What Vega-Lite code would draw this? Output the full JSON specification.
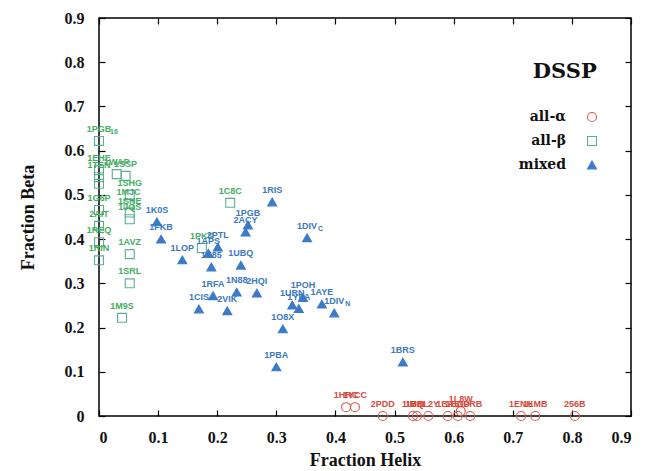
{
  "$schema": "https://vega.github.io/schema/vega-lite/v6.json",
  "width": 532,
  "height": 398,
  "autosize": {"type": "none"},
  "padding": {"left": 99, "top": 18, "right": 24, "bottom": 55},
  "background": "#ffffff",
  "data": {
    "values": [
      {"name": "1HRC", "h": 0.418, "b": 0.02, "cls": "all-α"},
      {"name": "1YCC", "h": 0.433, "b": 0.02, "cls": "all-α"},
      {"name": "2PDD", "h": 0.48, "b": 0.0, "cls": "all-α"},
      {"name": "1IMQ", "h": 0.531, "b": 0.0, "cls": "all-α"},
      {"name": "1BBL", "h": 0.538, "b": 0.0, "cls": "all-α"},
      {"name": "1L2Y", "h": 0.557, "b": 0.0, "cls": "all-α"},
      {"name": "1BA5", "h": 0.59, "b": 0.0, "cls": "all-α"},
      {"name": "1BDD", "h": 0.607, "b": 0.0, "cls": "all-α"},
      {"name": "1L8W", "h": 0.612, "b": 0.011, "cls": "all-α"},
      {"name": "1PRB", "h": 0.628, "b": 0.0, "cls": "all-α"},
      {"name": "1ENH", "h": 0.714, "b": 0.0, "cls": "all-α"},
      {"name": "1LMB", "h": 0.738, "b": 0.0, "cls": "all-α"},
      {"name": "256B", "h": 0.805, "b": 0.0, "cls": "all-α"},
      {"name": "1PGB", "sub": "16", "h": 0.0, "b": 0.622, "cls": "all-β"},
      {"name": "1EHE", "h": 0.0, "b": 0.556, "cls": "all-β"},
      {"name": "1TEN", "h": 0.0, "b": 0.54, "cls": "all-β"},
      {"name": "", "h": 0.0, "b": 0.525, "cls": "all-β"},
      {"name": "1WAP", "h": 0.03, "b": 0.547, "cls": "all-β"},
      {"name": "1SSP", "h": 0.045, "b": 0.543, "cls": "all-β"},
      {"name": "1SHG", "h": 0.052, "b": 0.5, "cls": "all-β"},
      {"name": "1MJC", "h": 0.05, "b": 0.48, "cls": "all-β"},
      {"name": "1SHE", "h": 0.052, "b": 0.46, "cls": "all-β"},
      {"name": "1JQS", "h": 0.052, "b": 0.445, "cls": "all-β"},
      {"name": "1G6P", "h": 0.0, "b": 0.466, "cls": "all-β"},
      {"name": "2AIT", "h": 0.0, "b": 0.43, "cls": "all-β"},
      {"name": "1REQ", "h": 0.0, "b": 0.393, "cls": "all-β"},
      {"name": "1RIN", "h": 0.0, "b": 0.352, "cls": "all-β"},
      {"name": "1AVZ", "h": 0.052, "b": 0.366, "cls": "all-β"},
      {"name": "1SRL", "h": 0.052, "b": 0.3, "cls": "all-β"},
      {"name": "1M9S", "h": 0.039, "b": 0.222, "cls": "all-β"},
      {"name": "1C8C", "h": 0.222, "b": 0.482, "cls": "all-β"},
      {"name": "1PKS", "h": 0.174, "b": 0.38, "cls": "all-β"},
      {"name": "1K0S", "h": 0.098, "b": 0.439, "cls": "mixed"},
      {"name": "1FKB", "h": 0.105, "b": 0.4, "cls": "mixed"},
      {"name": "1LOP", "h": 0.141, "b": 0.353, "cls": "mixed"},
      {"name": "1APS", "h": 0.185, "b": 0.368, "cls": "mixed"},
      {"name": "2PTL", "h": 0.201, "b": 0.382, "cls": "mixed"},
      {"name": "1E85", "h": 0.19, "b": 0.337, "cls": "mixed"},
      {"name": "1UBQ", "h": 0.24, "b": 0.341, "cls": "mixed"},
      {"name": "1RFA", "h": 0.193, "b": 0.272, "cls": "mixed"},
      {"name": "1N88", "h": 0.233, "b": 0.28, "cls": "mixed"},
      {"name": "2HQI", "h": 0.267, "b": 0.278, "cls": "mixed"},
      {"name": "1CIS", "h": 0.169, "b": 0.242, "cls": "mixed"},
      {"name": "2VIK", "h": 0.217, "b": 0.238, "cls": "mixed"},
      {"name": "1POH", "h": 0.345, "b": 0.268, "cls": "mixed"},
      {"name": "1URN", "h": 0.327, "b": 0.251, "cls": "mixed"},
      {"name": "1YPA", "h": 0.338, "b": 0.243, "cls": "mixed"},
      {"name": "1AYE", "h": 0.377, "b": 0.253, "cls": "mixed"},
      {"name": "1DIV", "sub": "N", "h": 0.398, "b": 0.233, "cls": "mixed"},
      {"name": "1O8X", "h": 0.311, "b": 0.197, "cls": "mixed"},
      {"name": "1PBA", "h": 0.3, "b": 0.111, "cls": "mixed"},
      {"name": "1BRS", "h": 0.514, "b": 0.122, "cls": "mixed"},
      {"name": "1DIV", "sub": "C", "h": 0.352, "b": 0.403, "cls": "mixed"},
      {"name": "1RIS", "h": 0.293, "b": 0.484, "cls": "mixed"},
      {"name": "1PGB", "h": 0.252, "b": 0.432, "cls": "mixed"},
      {"name": "2ACY", "h": 0.248, "b": 0.416, "cls": "mixed"}
    ]
  },
  "resolve": {"axis": {"x": "independent", "y": "independent"}},
  "layer": [
    {
      "mark": {"type": "point", "strokeWidth": 1.1, "opacity": 1},
      "encoding": {
        "x": {"field": "h", "type": "quantitative", "scale": {"domain": [0, 0.9], "nice": false, "zero": false},
              "axis": {"orient": "bottom", "values": [0, 0.1, 0.2, 0.3, 0.4, 0.5, 0.6, 0.7, 0.8, 0.9], "format": ".1~f", "labelPadding": 19, "title": "Fraction Helix", "titlePadding": 6}},
        "y": {"field": "b", "type": "quantitative", "scale": {"domain": [0, 0.9], "nice": false, "zero": false},
              "axis": {"orient": "left", "values": [0, 0.1, 0.2, 0.3, 0.4, 0.5, 0.6, 0.7, 0.8, 0.9], "format": ".1~f", "labelPadding": 21, "title": "Fraction Beta", "titlePadding": 27}},
        "shape": {"field": "cls", "type": "nominal", "scale": {"domain": ["all-α", "all-β", "mixed"], "range": ["circle", "square", "triangle-up"]}, "legend": {"title": null}},
        "stroke": {"field": "cls", "type": "nominal", "scale": {"domain": ["all-α", "all-β", "mixed"], "range": ["#d9584c", "#5aae95", "#3a7bc8"]}, "legend": {"title": null}},
        "fill": {"field": "cls", "type": "nominal", "scale": {"domain": ["all-α", "all-β", "mixed"], "range": ["transparent", "transparent", "#3a7bc8"]}, "legend": {"title": null}},
        "size": {"value": 80}
      }
    },
    {
      "mark": {"type": "text", "font": "Liberation Sans", "fontWeight": "bold", "fontSize": 9, "dy": -12, "baseline": "middle", "align": "center"},
      "encoding": {
        "x": {"field": "h", "type": "quantitative", "axis": {"orient": "top", "values": [0, 0.1, 0.2, 0.3, 0.4, 0.5, 0.6, 0.7, 0.8, 0.9], "labels": false, "title": null}},
        "y": {"field": "b", "type": "quantitative", "axis": {"orient": "right", "values": [0, 0.1, 0.2, 0.3, 0.4, 0.5, 0.6, 0.7, 0.8, 0.9], "labels": false, "title": null}},
        "text": {"field": "name"},
        "color": {"field": "cls", "type": "nominal", "scale": {"domain": ["all-α", "all-β", "mixed"], "range": ["#d94a3d", "#45ad5f", "#3a78c2"]}, "legend": null}
      }
    },
    {
      "transform": [{"filter": "datum.sub != null"}],
      "mark": {"type": "text", "font": "Liberation Sans", "fontWeight": "bold", "fontSize": 7, "dy": -9, "dx": 11, "baseline": "middle", "align": "left"},
      "encoding": {
        "x": {"field": "h", "type": "quantitative", "axis": null},
        "y": {"field": "b", "type": "quantitative", "axis": null},
        "text": {"field": "sub"},
        "color": {"field": "cls", "type": "nominal", "scale": {"domain": ["all-α", "all-β", "mixed"], "range": ["#d94a3d", "#45ad5f", "#3a78c2"]}, "legend": null}
      }
    },
    {
      "data": {"values": [{"t": "DSSP"}]},
      "mark": {"type": "text", "font": "DejaVu Serif", "fontWeight": "bold", "fontSize": 21, "color": "#111111", "align": "center", "baseline": "middle"},
      "encoding": {
        "x": {"datum": 0.788, "type": "quantitative", "axis": null},
        "y": {"datum": 0.778, "type": "quantitative", "axis": null},
        "text": {"field": "t"}
      }
    }
  ],
  "config": {
    "view": {"stroke": "#000000", "strokeWidth": 1.5},
    "axis": {
      "domain": false,
      "grid": false,
      "tickColor": "#000000",
      "tickSize": -6,
      "tickWidth": 1.2,
      "labelFont": "Liberation Serif",
      "labelFontWeight": "bold",
      "labelFontSize": 16,
      "labelColor": "#111111",
      "titleFont": "Liberation Serif",
      "titleFontWeight": "bold",
      "titleFontSize": 18,
      "titleColor": "#111111"
    },
    "legend": {
      "orient": "none",
      "legendX": 486,
      "legendY": 92,
      "padding": 0,
      "labelFont": "DejaVu Serif",
      "labelFontWeight": "bold",
      "labelFontSize": 14,
      "labelColor": "#111111",
      "labelAlign": "right",
      "labelOffset": -33,
      "symbolSize": 80,
      "symbolStrokeWidth": 1.1,
      "rowPadding": 10
    }
  }
}
